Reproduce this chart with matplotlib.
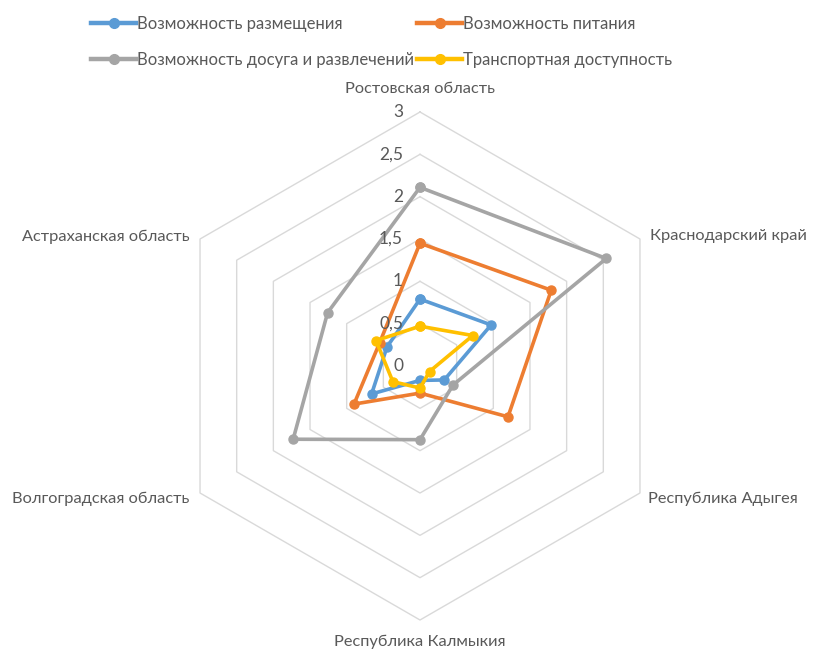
import numpy as np
import matplotlib.pyplot as plt
from matplotlib.lines import Line2D

plt.rcParams['font.family'] = ['Lato', 'DejaVu Sans']

categories = ['Ростовская область', 'Краснодарский край', 'Республика Адыгея',
              'Республика Калмыкия', 'Волгоградская область', 'Астраханская область']
series_names = ['Возможность размещения', 'Возможность питания',
                'Возможность досуга и развлечений', 'Транспортная доступность']
placement = [0.79, 0.97, 0.33, 0.17, 0.66, 0.45]
food = [1.45, 1.79, 1.20, 0.32, 0.90, 0.55]
leisure = [2.11, 2.54, 0.45, 0.87, 1.73, 1.26]
transport = [0.47, 0.72, 0.13, 0.26, 0.37, 0.60]
ticks = [0, 0.5, 1, 1.5, 2, 2.5, 3]
tick_labels = ['0', '0,5', '1', '1,5', '2', '2,5', '3']

colors = ['#5B9BD5', '#ED7D31', '#A5A5A5', '#FFC000']
text_color = '#595959'

# angles: first category at top, going clockwise
n = len(categories)
ang = np.pi / 2 - np.arange(n) * 2 * np.pi / n


def to_xy(vals):
    v = np.asarray(vals, dtype=float)
    v = np.append(v, v[0])
    a = np.append(ang, ang[0])
    return v * np.cos(a), v * np.sin(a)


W, H = 813, 649
cx, cy, scale = 420, 366, 254 / 3.0

fig = plt.figure(figsize=(W / 100, H / 100), dpi=100)
ax = fig.add_axes([0, 0, 1, 1])
ax.set_xlim(-cx / scale, (W - cx) / scale)
ax.set_ylim(-(H - cy) / scale, cy / scale)
ax.set_aspect('equal')
ax.axis('off')

# hexagon grid
for t in ticks[1:]:
    gx, gy = to_xy([t] * n)
    ax.plot(gx, gy, color='#d9d9d9', lw=1.0, zorder=1)

for t, lab in zip(ticks, tick_labels):
    ax.text(-0.2, t, lab, ha='right', va='center', fontsize=12.5,
            color=text_color, zorder=5)

# series
for vals, col in zip([placement, food, leisure, transport], colors):
    x, y = to_xy(vals)
    ax.plot(x, y, color=col, lw=2.6, marker='o', ms=6.5, zorder=3,
            solid_joinstyle='round')

# category labels
R = 3.0
lab_pos = [
    (0, R + 0.19, 'center', 'bottom'),
    (R * np.cos(ang[1]) + 0.12, R * np.sin(ang[1]) + 0.03, 'left', 'center'),
    (R * np.cos(ang[2]) + 0.09, R * np.sin(ang[2]) - 0.07, 'left', 'center'),
    (0, -R - 0.17, 'center', 'top'),
    (R * np.cos(ang[4]) - 0.12, R * np.sin(ang[4]) - 0.07, 'right', 'center'),
    (R * np.cos(ang[5]) - 0.12, R * np.sin(ang[5]) + 0.03, 'right', 'center'),
]
for cat, (lx, ly, ha, va) in zip(categories, lab_pos):
    ax.text(lx, ly, cat, ha=ha, va=va, fontsize=11.8, color=text_color)

# legend filled row by row (matplotlib fills columns, so reorder)
order = [0, 2, 1, 3]
handles = [Line2D([], [], color=colors[i], lw=3.2, marker='o', ms=7) for i in order]
fig.legend(handles, [series_names[i] for i in order], loc='upper left',
           bbox_to_anchor=(0.112, 0.976), ncol=2, frameon=False, fontsize=12.0,
           borderpad=0, borderaxespad=0,
           handlelength=2.7, handletextpad=0.05, columnspacing=0.2,
           labelspacing=1.2, labelcolor=text_color)

fig.savefig('out.png', dpi=100)
